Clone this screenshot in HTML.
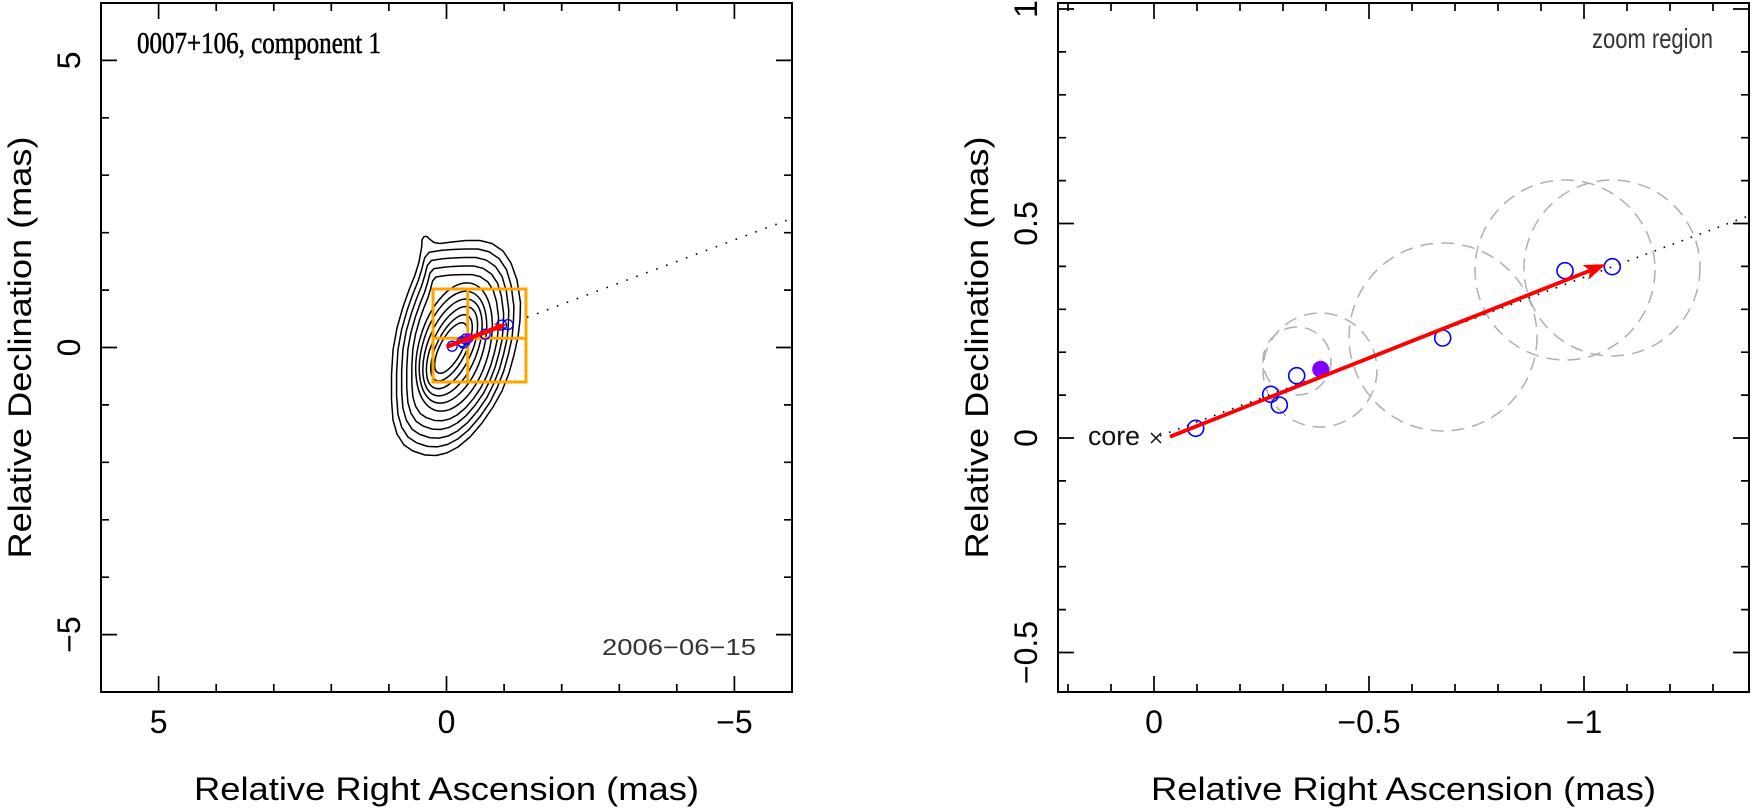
<!DOCTYPE html>
<html><head><meta charset="utf-8"><style>html,body{margin:0;padding:0;background:#fff}svg{display:block}</style></head>
<body>
<svg width="1753" height="811" viewBox="0 0 1753 811" xmlns="http://www.w3.org/2000/svg" font-family="'Liberation Sans', sans-serif">
<rect width="1753" height="811" fill="#fff"/>

<!-- ================= LEFT PANEL ================= -->
<g fill="none" stroke="#000" stroke-width="1.5" stroke-linejoin="round">
  <ellipse cx="451" cy="348" rx="28" ry="11" transform="rotate(-62 451 348)"/>
  <ellipse cx="451.5" cy="347.8" rx="36" ry="15" transform="rotate(-64 451.5 347.8)"/>
  <ellipse cx="452" cy="347.6" rx="44" ry="20" transform="rotate(-66 452 347.6)"/>
  <ellipse cx="452.5" cy="347.4" rx="51" ry="25" transform="rotate(-69 452.5 347.4)"/>
  <ellipse cx="453" cy="347.2" rx="58" ry="30" transform="rotate(-72 453 347.2)"/>
  <ellipse cx="454" cy="347" rx="66" ry="35" transform="rotate(-74 454 347)"/>
  <polygon vector-effect="non-scaling-stroke" transform="matrix(0.68 0 0 0.68 145.6 111.04)" points="419,262 422,250 427,244 440,242 452,241 466,240.5 480,240.5 492,243.5 503,251 511,263 516,280 519,303 518.5,320 517,337 513,355 508,373 501,391 493,407 482,423 470,437 458,447 446.7,453 436,455.5 425,455 413,451 404,445 397,434 393,420 391.5,400 391.5,375 393,350 397,328 403,307 409,290 415,275"/>
  <polygon vector-effect="non-scaling-stroke" transform="matrix(0.76 0 0 0.76 109.2 83.28)" points="419,262 422,250 427,244 440,242 452,241 466,240.5 480,240.5 492,243.5 503,251 511,263 516,280 519,303 518.5,320 517,337 513,355 508,373 501,391 493,407 482,423 470,437 458,447 446.7,453 436,455.5 425,455 413,451 404,445 397,434 393,420 391.5,400 391.5,375 393,350 397,328 403,307 409,290 415,275"/>
  <polygon vector-effect="non-scaling-stroke" transform="matrix(0.84 0 0 0.84 72.8 55.52)" points="419,262 422,250 427,244 440,242 452,241 466,240.5 480,240.5 492,243.5 503,251 511,263 516,280 519,303 518.5,320 517,337 513,355 508,373 501,391 493,407 482,423 470,437 458,447 446.7,453 436,455.5 425,455 413,451 404,445 397,434 393,420 391.5,400 391.5,375 393,350 397,328 403,307 409,290 415,275"/>
  <polygon vector-effect="non-scaling-stroke" transform="matrix(0.92 0 0 0.92 36.4 27.76)" points="419,262 422,250 427,244 440,242 452,241 466,240.5 480,240.5 492,243.5 503,251 511,263 516,280 519,303 518.5,320 517,337 513,355 508,373 501,391 493,407 482,423 470,437 458,447 446.7,453 436,455.5 425,455 413,451 404,445 397,434 393,420 391.5,400 391.5,375 393,350 397,328 403,307 409,290 415,275"/>
  <polygon points="421.7,246.7 422,240 424,236.5 427,236.5 430,239.5 434,242.5 440,243.5 452,242 466,240.5 480,240.5 492,243.5 503,251 511,263 517,280 520.5,303 520,320 518,337 514,355 509,373 502,391 493,407 482,423 470,437 458,447 446.7,453 436,455.5 425,455 413,451 404,445 397,434 393,420 391.5,400 391.5,375 393,350 397,328 403,307 409,290 415,275 419,262"/>
</g>

<g stroke="#ffa500" stroke-width="3" fill="none">
  <rect x="433" y="289" width="93" height="93"/>
  <path d="M467.7 289V382M433 338.3H526"/>
</g>

<line x1="527" y1="317.4" x2="792" y2="218.4" stroke="#000" stroke-width="1.6" stroke-dasharray="1.6 9"/>

<g fill="none" stroke="#0000ff" stroke-width="1.3">
  <circle cx="507.9" cy="324.6" r="5"/>
  <circle cx="501.5" cy="325.1" r="5"/>
  <circle cx="485.1" cy="334.1" r="5"/>
  <circle cx="465.6" cy="339.2" r="5"/>
  <circle cx="462.1" cy="341.6" r="5"/>
  <circle cx="463.3" cy="343.1" r="5"/>
  <circle cx="452.1" cy="346.2" r="5"/>
</g>
<circle cx="468.8" cy="338.3" r="5" fill="#7f00ff"/>

<line x1="446.7" y1="346.7" x2="498" y2="327.3" stroke="#ff0000" stroke-width="4.5"/>
<polygon points="506.7,324 497.3,332.9 498.5,328 493.7,323.5" fill="#ff0000"/>

<rect x="101" y="3" width="691" height="689" fill="none" stroke="#000" stroke-width="2"/>
<path fill="none" stroke="#000" stroke-width="1.7" d="
M158.6 692v-16M216.2 692v-8M273.8 692v-8M331.3 692v-8M388.9 692v-8M446.5 692v-16M504.1 692v-8M561.7 692v-8M619.3 692v-8M676.8 692v-8M734.4 692v-16
M158.6 3v16M216.2 3v8M273.8 3v8M331.3 3v8M388.9 3v8M446.5 3v16M504.1 3v8M561.7 3v8M619.3 3v8M676.8 3v8M734.4 3v16
M101 60.4h16M101 117.8h8M101 175.2h8M101 232.7h8M101 290.1h8M101 347.5h16M101 404.9h8M101 462.3h8M101 519.8h8M101 577.2h8M101 634.6h16
M792 60.4h-16M792 117.8h-8M792 175.2h-8M792 232.7h-8M792 290.1h-8M792 347.5h-16M792 404.9h-8M792 462.3h-8M792 519.8h-8M792 577.2h-8M792 634.6h-16"/>

<g font-size="32" fill="#000" text-anchor="middle">
  <text x="158.6" y="733">5</text>
  <text x="446.5" y="733">0</text>
  <text x="734.4" y="733">−5</text>
  <text transform="translate(80,60.4) rotate(-90)">5</text>
  <text transform="translate(80,347.5) rotate(-90)">0</text>
  <text transform="translate(80,634.6) rotate(-90)">−5</text>
  <text x="446.5" y="800" textLength="505" lengthAdjust="spacingAndGlyphs">Relative Right Ascension (mas)</text>
  <text transform="translate(31,347.5) rotate(-90)" textLength="422" lengthAdjust="spacingAndGlyphs">Relative Declination (mas)</text>
</g>

<text x="137" y="53" font-family="'Liberation Serif', serif" font-size="31" fill="#000" stroke="#000" stroke-width="0.6" textLength="244" lengthAdjust="spacingAndGlyphs">0007+106, component 1</text>
<text x="602" y="655" font-size="23" fill="#333" textLength="154" lengthAdjust="spacingAndGlyphs">2006−06−15</text>

<!-- ================= RIGHT PANEL ================= -->
<g fill="none" stroke="#b0b0b0" stroke-width="1.5" stroke-dasharray="13 8">
  <circle cx="1612" cy="268" r="88"/>
  <circle cx="1565" cy="270" r="90"/>
  <circle cx="1443" cy="337" r="94"/>
  <circle cx="1320" cy="370" r="57"/>
  <circle cx="1297" cy="361" r="34"/>
</g>

<line x1="1160" y1="435.8" x2="1749" y2="215.7" stroke="#000" stroke-width="1.6" stroke-dasharray="1.6 8"/>

<g fill="none" stroke="#0000ff" stroke-width="1.6">
  <circle cx="1612.3" cy="266.7" r="8"/>
  <circle cx="1565" cy="270.7" r="8"/>
  <circle cx="1442.7" cy="338" r="8"/>
  <circle cx="1296.7" cy="375.7" r="8"/>
  <circle cx="1270.7" cy="394.3" r="8"/>
  <circle cx="1279.3" cy="405" r="8"/>
  <circle cx="1195.7" cy="428.3" r="8"/>
</g>
<circle cx="1320.7" cy="369.3" r="8.5" fill="#7f00ff"/>

<line x1="1170" y1="436.7" x2="1590" y2="270.6" stroke="#ff0000" stroke-width="3.8"/>
<polygon points="1606,264.3 1588.4,279.8 1590.2,270.6 1582.6,265" fill="#ff0000"/>

<text x="1088" y="445" font-size="27" fill="#111" textLength="52" lengthAdjust="spacingAndGlyphs">core</text>
<path d="M1151 433L1161 443M1161 433L1151 443" stroke="#111" stroke-width="1.5"/>
<text x="1592" y="48" font-size="28" fill="#333" textLength="121" lengthAdjust="spacingAndGlyphs">zoom region</text>

<rect x="1058" y="3" width="691" height="689" fill="none" stroke="#000" stroke-width="2"/>
<path fill="none" stroke="#000" stroke-width="1.7" d="
M1068 692v-8M1111 692v-8M1154 692v-16M1197 692v-8M1240 692v-8M1283 692v-8M1326 692v-8M1369 692v-16M1412 692v-8M1455 692v-8M1498 692v-8M1541 692v-8M1584 692v-16M1627 692v-8M1670 692v-8M1713 692v-8
M1068 3v8M1111 3v8M1154 3v16M1197 3v8M1240 3v8M1283 3v8M1326 3v8M1369 3v16M1412 3v8M1455 3v8M1498 3v8M1541 3v8M1584 3v16M1627 3v8M1670 3v8M1713 3v8
M1058 9h16M1058 51.9h8M1058 94.8h8M1058 137.7h8M1058 180.6h8M1058 223.5h16M1058 266.4h8M1058 309.3h8M1058 352.2h8M1058 395.1h8M1058 438h16M1058 480.9h8M1058 523.8h8M1058 566.7h8M1058 609.6h8M1058 652.5h16
M1749 9h-16M1749 51.9h-8M1749 94.8h-8M1749 137.7h-8M1749 180.6h-8M1749 223.5h-16M1749 266.4h-8M1749 309.3h-8M1749 352.2h-8M1749 395.1h-8M1749 438h-16M1749 480.9h-8M1749 523.8h-8M1749 566.7h-8M1749 609.6h-8M1749 652.5h-16"/>

<g font-size="32" fill="#000" text-anchor="middle">
  <text x="1154" y="733">0</text>
  <text x="1369" y="733">−0.5</text>
  <text x="1584" y="733">−1</text>
  <text transform="translate(1037,9) rotate(-90)">1</text>
  <text transform="translate(1037,223.5) rotate(-90)">0.5</text>
  <text transform="translate(1037,438) rotate(-90)">0</text>
  <text transform="translate(1037,652.5) rotate(-90)">−0.5</text>
  <text x="1403.5" y="800" textLength="505" lengthAdjust="spacingAndGlyphs">Relative Right Ascension (mas)</text>
  <text transform="translate(988,347.5) rotate(-90)" textLength="422" lengthAdjust="spacingAndGlyphs">Relative Declination (mas)</text>
</g>
</svg>
</body></html>
